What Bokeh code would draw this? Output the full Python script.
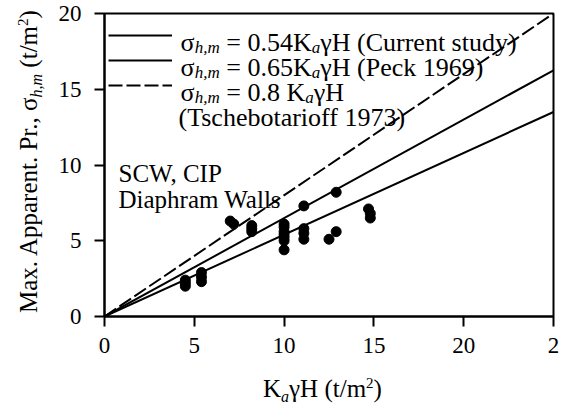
import math
from bokeh.plotting import figure
from bokeh.models import Range1d, Label, Legend, LegendItem, FixedTicker, Div
from bokeh.layouts import row, column
from bokeh.embed import file_html
from bokeh.resources import INLINE

# ---------------- data ----------------
k_gamma_h = [4.5, 4.5, 4.5, 5.4, 5.4, 5.4, 7.0, 7.2, 8.2, 8.2, 8.2,
             10.0, 10.0, 10.0, 10.0, 10.0, 10.0, 10.0,
             11.1, 11.1, 11.1, 11.1, 12.5, 12.9, 12.9, 14.7, 14.8, 14.8]
sigma_hm = [2.4, 2.2, 2.0, 2.9, 2.6, 2.3, 6.3, 6.1, 6.0, 5.8, 5.6,
            6.1, 5.9, 5.6, 5.4, 5.2, 5.0, 4.4,
            7.3, 5.8, 5.5, 5.1, 5.1, 5.6, 8.2, 7.1, 6.8, 6.5]
line_x = [0, 25]
coef_current = 0.54
coef_peck = 0.65
coef_tsch = 0.8
x_ticks = [0, 5, 10, 15, 20, 25]
x_tick_labels = ["0", "5", "10", "15", "20", "2"]
y_ticks = [0, 5, 10, 15, 20]
y_tick_labels = ["0", "5", "10", "15", "20"]

# ---------------- layout ----------------
W, H = 563, 410
YL_W = 50          # width of the y-title strip
XL_H = 40          # height of the x-title strip
PW, PH = W - YL_W, H - XL_H
FL, FR, FT, FB = 104, 553, 13, 316   # frame edges in page pixels
FONT = "Liberation Serif"

p = figure(width=PW, height=PH, output_backend="svg", toolbar_location=None,
           x_range=Range1d(0, 25), y_range=Range1d(0, 20),
           min_border_left=FL - YL_W, min_border_right=W - FR,
           min_border_top=FT, min_border_bottom=PH - FB)
p.background_fill_color = "white"
p.border_fill_color = "white"
p.grid.grid_line_color = None
p.outline_line_color = "black"
p.outline_line_width = 2
p.outline_line_alpha = 1.0

p.xaxis.ticker = FixedTicker(ticks=x_ticks)
p.yaxis.ticker = FixedTicker(ticks=y_ticks)
p.xaxis.major_label_overrides = {t: s for t, s in zip(x_ticks, x_tick_labels)}
p.yaxis.major_label_overrides = {t: s for t, s in zip(y_ticks, y_tick_labels)}
for ax in (p.xaxis[0], p.yaxis[0]):
    ax.axis_line_color = "black"
    ax.axis_line_width = 2
    ax.major_tick_line_color = "black"
    ax.major_tick_line_width = 2
    ax.major_tick_out = 10
    ax.major_tick_in = 0
    ax.minor_tick_line_color = None
    ax.major_label_text_font = FONT
    ax.major_label_text_font_size = "23px"
    ax.major_label_text_color = "black"
p.xaxis.major_label_standoff = 11
p.yaxis.major_label_standoff = 13

# ---------------- marks ----------------
r_cur = p.line(line_x, [coef_current * v for v in line_x], line_color="black", line_width=2)
r_peck = p.line(line_x, [coef_peck * v for v in line_x], line_color="black", line_width=2)
r_tsch = p.line(line_x, [coef_tsch * v for v in line_x], line_color="black", line_width=2,
                line_dash="14 4")
p.scatter(k_gamma_h, sigma_hm, size=10, color="black")

legend = Legend(items=[LegendItem(label=" ", renderers=[r_cur]),
                       LegendItem(label=" ", renderers=[r_peck]),
                       LegendItem(label=" ", renderers=[r_tsch])],
                location=(4, 221), padding=0, margin=0, spacing=5,
                glyph_height=20, glyph_width=64, label_height=20, label_width=1,
                label_standoff=0, label_text_font_size="1px",
                border_line_alpha=0, background_fill_alpha=0)
p.add_layout(legend)

# ---------------- rich text helper (inside the frame) ----------------
WID = {' ': 250, '(': 333, ')': 333, ',': 250, '.': 250, '/': 278, '=': 564,
       'A': 722, 'C': 667, 'D': 722, 'H': 722, 'I': 333, 'K': 722, 'M': 889,
       'P': 556, 'S': 556, 'T': 611, 'W': 944,
       'a': 444, 'b': 500, 'c': 444, 'd': 500, 'e': 444, 'f': 333, 'h': 500,
       'i': 278, 'k': 500, 'l': 278, 'm': 778, 'n': 500, 'o': 500, 'p': 500,
       'r': 333, 's': 389, 't': 278, 'u': 500, 'x': 500, 'y': 500,
       'σ': 550, 'γ': 470}
WID_IT = {'a': 500, 'h': 500, 'm': 722, ',': 250}


def width(s, fs, italic=False):
    tot = 0
    for c in s:
        if c.isdigit():
            tot += 500
        elif italic and c in WID_IT:
            tot += WID_IT[c]
        else:
            tot += WID.get(c, 500)
    return tot * fs / 1000.0


def rich(parts, sx, sy, size):
    pos = 0.0
    for text, kind in parts:
        if kind == "sub":
            fs, shift, style = round(size * 0.64), -0.2 * size, "italic"
        else:
            fs, shift, style = size, 0.0, "normal"
        lead = len(text) - len(text.lstrip(" "))
        pos += width(" " * lead, fs)
        text = text.lstrip(" ")
        p.add_layout(Label(x=sx + pos - FL, y=FB - (sy - shift),
                           x_units="screen", y_units="screen",
                           text=text, text_font=FONT, text_font_size=f"{fs}px",
                           text_font_style=style, text_color="black",
                           text_align="left", text_baseline="alphabetic"))
        pos += width(text, fs, style == "italic")


LEG = 26
rich([("σ", "n"), ("h,m", "sub"), (" = 0.54K", "n"), ("a", "sub"),
      ("γH (Current study)", "n")], 180, 42, LEG)
rich([("σ", "n"), ("h,m", "sub"), (" = 0.65K", "n"), ("a", "sub"),
      ("γH (Peck 1969)", "n")], 180, 67, LEG)
rich([("σ", "n"), ("h,m", "sub"), (" = 0.8 K", "n"), ("a", "sub"),
      ("γH", "n")], 180, 92, LEG)
rich([("(Tschebotarioff 1973)", "n")], 178, 117, LEG)

rich([("SCW, CIP", "n")], 118, 173, 25)
rich([("Diaphram Walls", "n")], 118, 199, 25)

# ---------------- axis titles (HTML strips beside the figure) ----------------
TXT = ("white-space:nowrap; font-family:'Liberation Serif'; font-size:25px; "
       "line-height:25px; color:black; transform-origin:0 0;")
SUB = "font-size:16px; font-style:italic; vertical-align:-5px; line-height:0;"
SUP = "font-size:15px; vertical-align:9px; line-height:0;"

y_title = Div(width=YL_W, height=H, margin=0,
              text=(f'<div style="{TXT} transform:translate(16px,313px) rotate(-90deg);">'
                    f'Max. Apparent. Pr., σ<span style="{SUB}">h,m</span> '
                    f'(t/m<span style="{SUP}">2</span>)</div>'))
x_title = Div(width=PW, height=XL_H, margin=0,
              text=(f'<div style="{TXT} transform:translate({263 - YL_W}px,6px);">'
                    f'K<span style="{SUB}">a</span>γH '
                    f'(t/m<span style="{SUP}">2</span>)</div>'))

layout = row(y_title, column(p, x_title, spacing=0), spacing=0)
open("out.html", "w").write(file_html(layout, INLINE))
